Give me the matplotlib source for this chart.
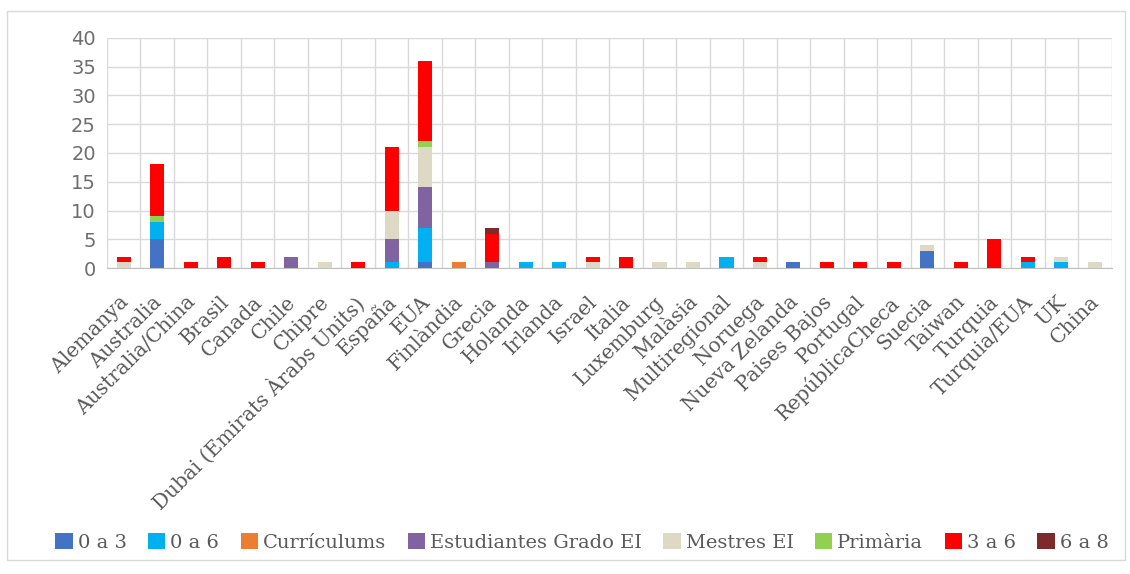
import numpy as np
import matplotlib.pyplot as plt
import matplotlib.transforms as mtransforms
from matplotlib.patches import Rectangle

# Categories (countries)
paises = ['Alemanya', 'Australia', 'Australia/China', 'Brasil', 'Canada', 'Chile',
          'Chipre', 'Dubai (Emirats Àrabs Units)', 'España', 'EUA', 'Finlàndia',
          'Grecia', 'Holanda', 'Irlanda', 'Israel', 'Italia', 'Luxemburg', 'Malàsia',
          'Multiregional', 'Noruega', 'Nueva Zelanda', 'Paises Bajos', 'Portugal',
          'RepúblicaCheca', 'Suecia', 'Taiwan', 'Turquia', 'Turquia/EUA', 'UK', 'China']

# Series values, one per country
v_0a3 =         [0, 5, 0, 0, 0, 0, 0, 0, 0, 1, 0, 0, 0, 0, 0, 0, 0, 0, 0, 0, 1, 0, 0, 0, 3, 0, 0, 0, 0, 0]
v_0a6 =         [0, 3, 0, 0, 0, 0, 0, 0, 1, 6, 0, 0, 1, 1, 0, 0, 0, 0, 2, 0, 0, 0, 0, 0, 0, 0, 0, 1, 1, 0]
v_curriculums = [0, 0, 0, 0, 0, 0, 0, 0, 0, 0, 1, 0, 0, 0, 0, 0, 0, 0, 0, 0, 0, 0, 0, 0, 0, 0, 0, 0, 0, 0]
v_estudiantes = [0, 0, 0, 0, 0, 2, 0, 0, 4, 7, 0, 1, 0, 0, 0, 0, 0, 0, 0, 0, 0, 0, 0, 0, 0, 0, 0, 0, 0, 0]
v_mestres =     [1, 0, 0, 0, 0, 0, 1, 0, 5, 7, 0, 0, 0, 0, 1, 0, 1, 1, 0, 1, 0, 0, 0, 0, 1, 0, 0, 0, 1, 1]
v_primaria =    [0, 1, 0, 0, 0, 0, 0, 0, 0, 1, 0, 0, 0, 0, 0, 0, 0, 0, 0, 0, 0, 0, 0, 0, 0, 0, 0, 0, 0, 0]
v_3a6 =         [1, 9, 1, 2, 1, 0, 0, 1, 11, 14, 0, 5, 0, 0, 1, 2, 0, 0, 0, 1, 0, 1, 1, 1, 0, 1, 5, 1, 0, 0]
v_6a8 =         [0, 0, 0, 0, 0, 0, 0, 0, 0, 0, 0, 1, 0, 0, 0, 0, 0, 0, 0, 0, 0, 0, 0, 0, 0, 0, 0, 0, 0, 0]

series = [('0 a 3', v_0a3, '#4472C4'),
          ('0 a 6', v_0a6, '#00B0F0'),
          ('Currículums', v_curriculums, '#ED7D31'),
          ('Estudiantes Grado EI', v_estudiantes, '#8064A2'),
          ('Mestres EI', v_mestres, '#DDD9C4'),
          ('Primària', v_primaria, '#92D050'),
          ('3 a 6', v_3a6, '#FF0000'),
          ('6 a 8', v_6a8, '#7B2B2B')]

fig = plt.figure(figsize=(11.3, 5.74), dpi=100)
ax = fig.add_axes([0.0947, 0.533, 0.889, 0.401])

# outer chart border
fig.patches.append(Rectangle((0.006, 0.025), 0.99, 0.955, transform=fig.transFigure,
                             fill=False, edgecolor='#D9D9D9', linewidth=1))

x = np.arange(len(paises))
bottom = np.zeros(len(paises))
for name, vals, col in series:
    vals = np.array(vals, dtype=float)
    ax.bar(x, vals, width=0.42, bottom=bottom, color=col, label=name, zorder=3)
    bottom += vals

ax.set_xlim(-0.5, len(paises) - 0.5)
ax.set_ylim(0, 40)
ax.set_yticks(np.arange(0, 41, 5))

# grid: horizontal at ticks, vertical between categories
ax.set_xticks(np.arange(-0.5, len(paises)), minor=True)
ax.grid(axis='y', which='major', color='#D9D9D9', linewidth=1, zorder=0)
ax.grid(axis='x', which='minor', color='#D9D9D9', linewidth=1, zorder=0)
ax.tick_params(axis='x', which='both', length=0)
ax.tick_params(axis='y', length=0, labelsize=14, labelcolor='#6E6E6E', pad=8)

ax.set_xticks(x)
ax.set_xticklabels(paises, rotation=45, ha='right', rotation_mode='anchor',
                   family='DejaVu Serif', fontsize=14.5, color='#595959')
ax.tick_params(axis='x', pad=11)
# nudge labels a bit down-left like the original
offset = mtransforms.ScaledTranslation(-5 / 100, -9 / 100, fig.dpi_scale_trans)
for lbl in ax.get_xticklabels():
    lbl.set_transform(lbl.get_transform() + offset)

for s in ['top', 'right', 'left']:
    ax.spines[s].set_visible(False)
ax.spines['bottom'].set_color('#BFBFBF')

leg = fig.legend(loc='center', bbox_to_anchor=(0.515, 0.055), ncol=8, frameon=False,
                 handlelength=0.9, handleheight=0.9, handletextpad=0.25,
                 columnspacing=1.1, prop={'family': 'DejaVu Serif', 'size': 14})
for t in leg.get_texts():
    t.set_color('#595959')

plt.savefig('out.png', dpi=100)
